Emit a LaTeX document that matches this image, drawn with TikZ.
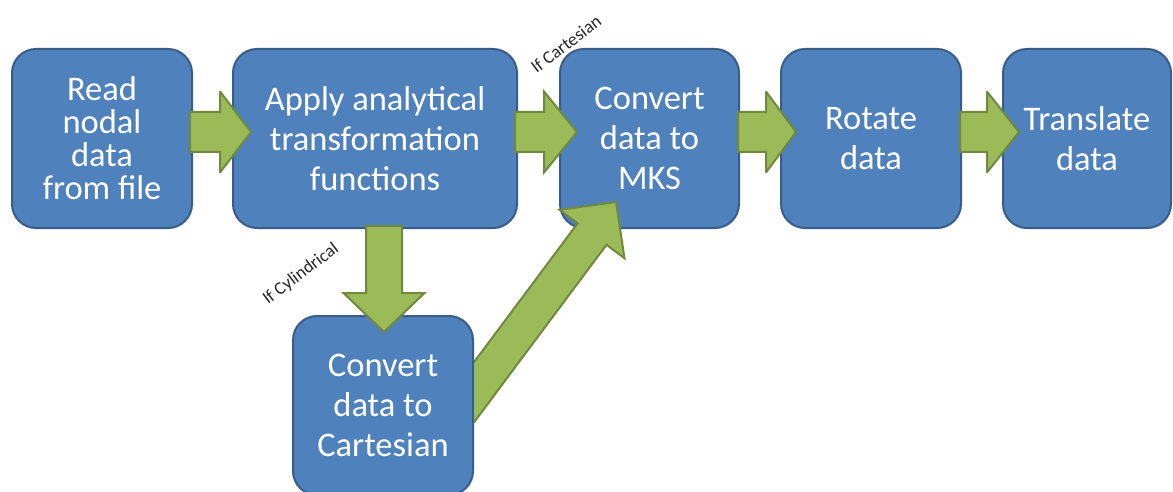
\documentclass[tikz,border=0pt]{standalone}
\usepackage{fontspec}
\setmainfont{Carlito}
\usetikzlibrary{calc}

\definecolor{boxfill}{HTML}{4F81BD}
\definecolor{boxline}{HTML}{385D8A}
\definecolor{arrowfill}{HTML}{9BBB59}
\definecolor{arrowline}{HTML}{71893F}

% Block arrow from #1 (tail) to #2 (tip):
% #3 shaft half width, #4 head half width, #5 head length (all in pt)
\newcommand\blockarrow[5]{%
  \coordinate (ba-base) at ($(#2)!#5pt!(#1)$);
  \draw[flow]
    ($(#1)!#3pt!90:(#2)$) -- ($(ba-base)!#3pt!90:(#2)$) --
    ($(ba-base)!#4pt!90:(#2)$) -- (#2) --
    ($(ba-base)!#4pt!-90:(#2)$) -- ($(ba-base)!#3pt!-90:(#2)$) --
    ($(#1)!#3pt!-90:(#2)$) -- cycle;
}

\begin{document}
\begin{tikzpicture}[x=1pt,y=-1pt,
  stepbox/.style={draw=boxline, fill=boxfill, line width=2pt,
    rounded corners=24pt, text=white, align=center,
    minimum height=179pt, inner sep=0pt,
    font=\fontsize{34.5}{40}\selectfont},
  flow/.style={draw=arrowline, fill=arrowfill, line width=2pt, line join=miter, miter limit=3},
  cond/.style={font=\fontsize{18}{20}\selectfont, text=black!85, rotate=37}]
\useasboundingbox (0,0) rectangle (1173,492);

% process steps
\node[stepbox, minimum width=180pt, font=\fontsize{34.5}{33}\selectfont]
  (b1) at (102,138.5) {Read\\nodal\\data\\from file};
\node[stepbox, minimum width=284pt] (b2) at (375,138.5)
  {Apply analytical\\transformation\\functions};
\node[stepbox, minimum width=179pt] (b3) at (649.5,138.5) {Convert\\data to\\MKS};
\node[stepbox, minimum width=180pt] (b4) at (871,138.5) {Rotate\\data};
\node[stepbox, minimum width=168pt] (b5) at (1087,138.5) {Translate\\data};
\node[stepbox, minimum width=180pt] (b6) at (383,405.5) {Convert\\data to\\Cartesian};

% branch conditions
\node[cond] (lcart) at (566,44) {If Cartesian};
\node[cond] (lcyl) at (301,274) {If Cylindrical};

% arrow ends
\coordinate (a1s) at (190,132);  \coordinate (a1t) at (251,132);
\coordinate (a2s) at (515,132);  \coordinate (a2t) at (577,132);
\coordinate (a3s) at (738,132);  \coordinate (a3t) at (796,132);
\coordinate (a4s) at (960,132);  \coordinate (a4t) at (1019,132);
\coordinate (a5s) at (384,226);  \coordinate (a5t) at (384,332);
\coordinate (a6s) at (460,411);  \coordinate (a6t) at (616,202);

\blockarrow{a1s}{a1t}{20}{40.5}{31}
\blockarrow{a2s}{a2t}{20}{40.5}{33}
\blockarrow{a3s}{a3t}{20}{40.5}{30}
\blockarrow{a4s}{a4t}{20}{40.5}{32}
\blockarrow{a5s}{a5t}{18}{40.5}{39}
% the diagonal arrow leaves the side of the lower box, cut square to it
\begin{scope}
  \clip (b6.east |- 0,0) rectangle (1173,492);
  \blockarrow{a6s}{a6t}{18}{40.5}{40}
\end{scope}
\end{tikzpicture}
\end{document}
